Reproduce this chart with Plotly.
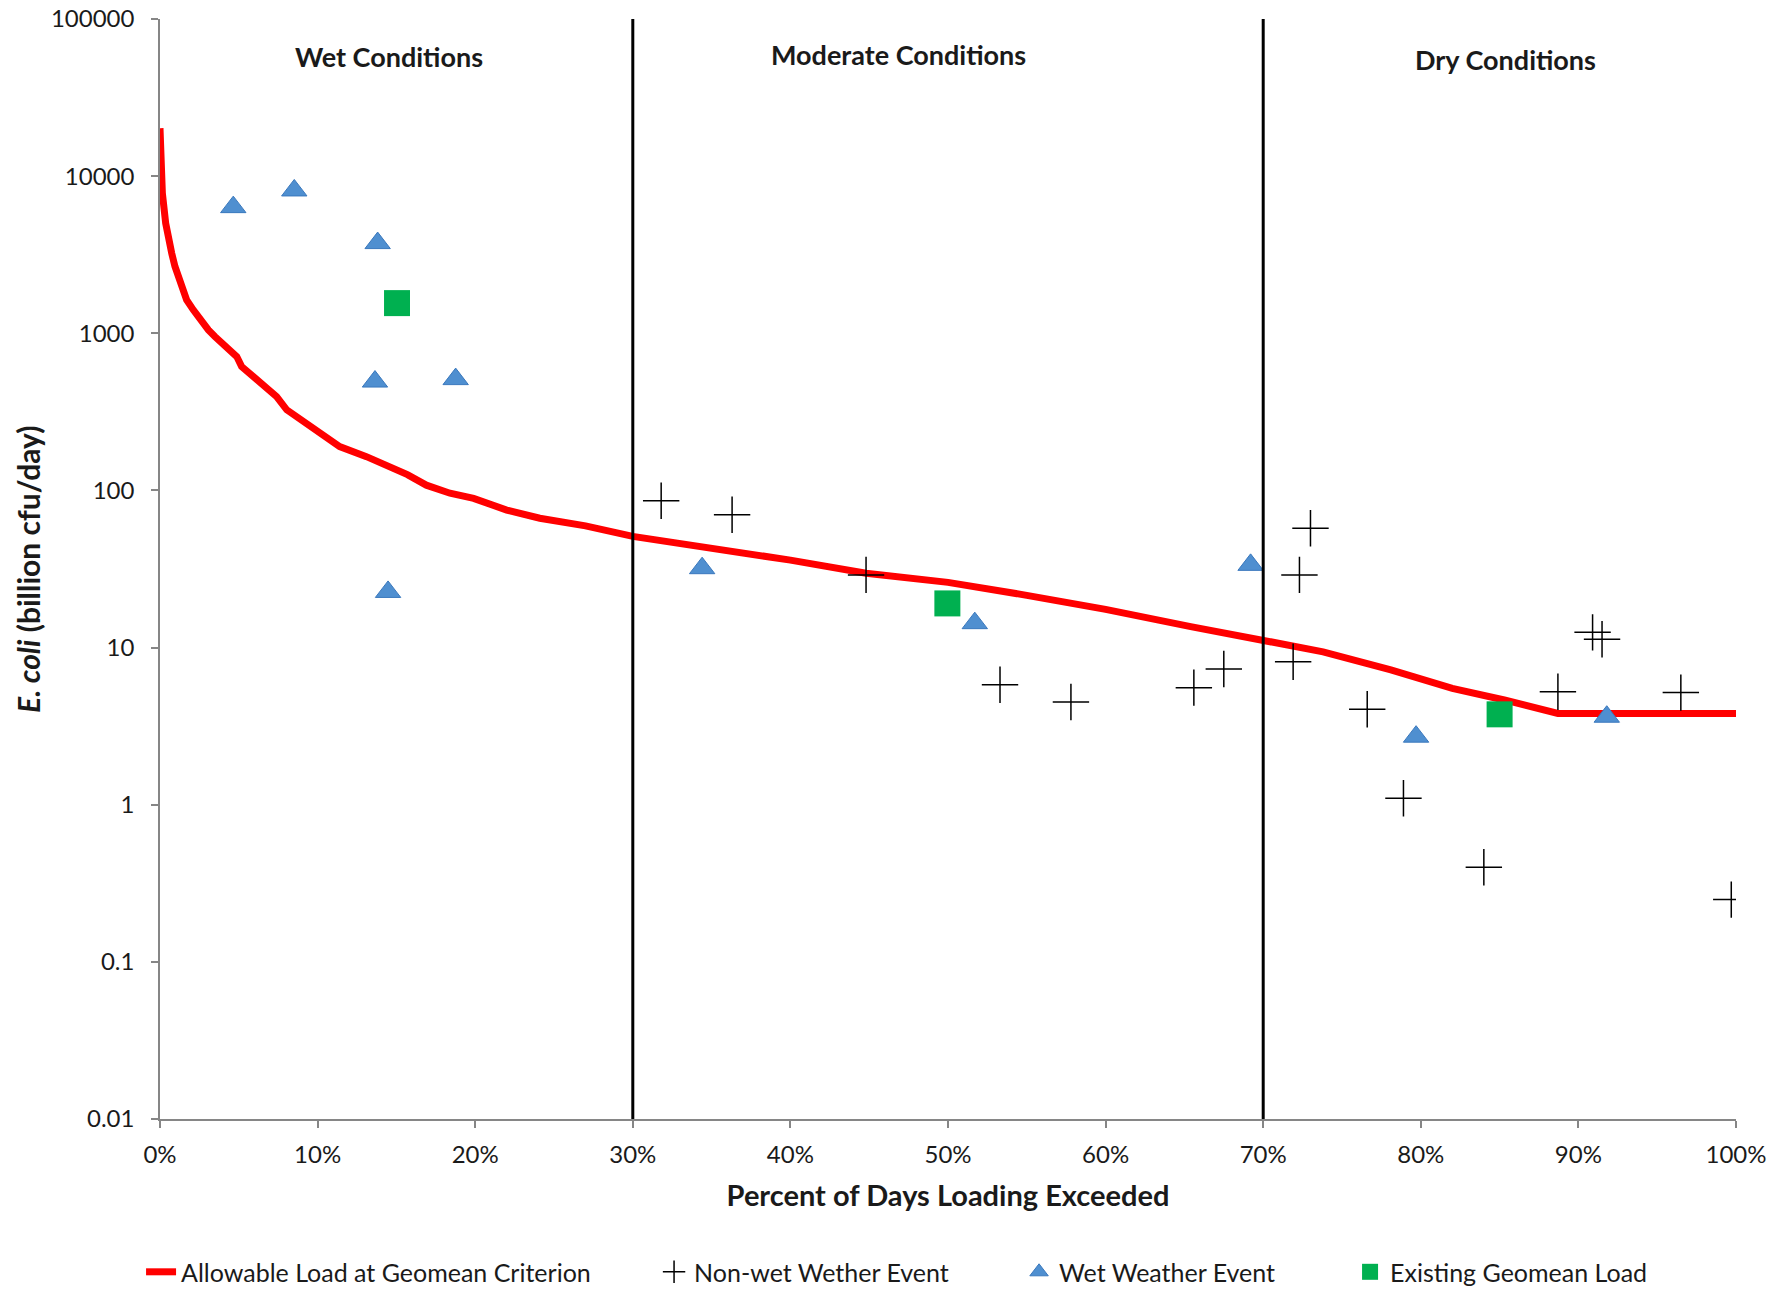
import math
import plotly.graph_objects as go

# ---------------- data ----------------
# Allowable load duration curve (fraction of days exceeded, billion cfu/day)
curve_x = [0.0, 0.0015, 0.0036, 0.0053, 0.0074, 0.0095, 0.0127, 0.0169, 0.0211, 0.0254,
           0.0307, 0.0348, 0.0391, 0.0444, 0.0487, 0.0518, 0.0592, 0.0677, 0.074, 0.0804,
           0.1015, 0.114, 0.131, 0.144, 0.157, 0.169, 0.184, 0.199, 0.220, 0.241,
           0.27, 0.30, 0.35, 0.40, 0.448, 0.50, 0.55, 0.60, 0.654, 0.70,
           0.738, 0.781, 0.82, 0.853, 0.887, 1.0]
curve_y = [20200, 7800, 5020, 3930, 3240, 2660, 2080, 1630, 1410, 1220,
           1050, 953, 865, 784, 711, 614, 530, 458, 395, 326,
           231, 190, 164, 145, 126, 108, 96, 89, 75, 66.5,
           59.5, 51, 43, 36, 29.7, 26, 21.5, 17.5, 13.6, 11.2,
           9.4, 7.2, 5.5, 4.64, 3.81, 3.81]

# Non-wet weather events
nonwet_x = [0.318, 0.363, 0.448, 0.533, 0.578, 0.656, 0.675, 0.719, 0.723, 0.730,
            0.766, 0.789, 0.840, 0.887, 0.909, 0.915, 0.965, 0.997]
nonwet_y = [86, 70, 29, 5.8, 4.5, 5.56, 7.3, 8.13, 29, 57.4,
            4.05, 1.1, 0.40, 5.24, 12.5, 11.3, 5.17, 0.249]

# Wet weather events
wet_x = [0.0465, 0.0852, 0.1381, 0.1364, 0.1876, 0.1447, 0.344, 0.517, 0.692, 0.797, 0.918]
wet_y = [6350, 8110, 3750, 493, 511, 22.6, 32, 14.3, 33.6, 2.71, 3.63]

# Existing geomean load
geo_x = [0.1504, 0.4996, 0.850]
geo_y = [1556, 19.1, 3.76]

# Flow condition boundaries and labels
bounds = [0.30, 0.70]
cond_labels = ["Wet Conditions", "Moderate Conditions", "Dry Conditions"]
cond_label_x = [0.145, 0.4685, 0.854]
cond_label_y = [58000, 59700, 55000]

x_ticks = [0, 0.1, 0.2, 0.3, 0.4, 0.5, 0.6, 0.7, 0.8, 0.9, 1.0]
x_ticktext = ["0%", "10%", "20%", "30%", "40%", "50%", "60%", "70%", "80%", "90%", "100%"]
y_ticks = [0.01, 0.1, 1, 10, 100, 1000, 10000, 100000]
y_ticktext = ["0.01", "0.1", "1", "10", "100", "1000", "10000", "100000"]

names = ["Allowable Load at Geomean Criterion", "Non-wet Wether Event",
         "Wet Weather Event", "Existing Geomean Load"]
y_title = "<b><i>E. coli</i> (billion cfu/day)</b>"
x_title = "<b>Percent of Days Loading Exceeded</b>"

FONT = "Lato"
TXT = "#1a1a1a"
AX = "#868686"

fig = go.Figure()
fig.add_trace(go.Scatter(x=curve_x, y=curve_y, mode="lines", name=names[0],
                         line=dict(color="#FF0000", width=7), legendwidth=468))
fig.add_trace(go.Scatter(x=nonwet_x, y=nonwet_y, mode="markers", name=names[1],
                         marker=dict(symbol="cross-thin", size=26,
                                     line=dict(color="#000000", width=1.5)),
                         legendwidth=320))
fig.add_trace(go.Scatter(x=wet_x, y=wet_y, mode="markers", name=names[2],
                         marker=dict(symbol="triangle-up", size=22, color="#4F8FD0",
                                     line=dict(color="#3A78BD", width=1)),
                         legendwidth=286))
fig.add_trace(go.Scatter(x=geo_x, y=geo_y, mode="markers", name=names[3],
                         marker=dict(symbol="square", size=26, color="#00B050",
                                     line=dict(width=0)),
                         legendwidth=270))

for b in bounds:
    fig.add_shape(type="line", x0=b, x1=b, xref="x", yref="paper", y0=0, y1=1,
                  line=dict(color="#000000", width=3), layer="above")

for t, lx, ly in zip(cond_labels, cond_label_x, cond_label_y):
    fig.add_annotation(x=lx, y=math.log10(ly), xref="x", yref="y",
                       text="<b>" + t + "</b>", showarrow=False,
                       font=dict(family=FONT, size=27, color=TXT))

# y-axis title (rotated)
fig.add_annotation(x=-0.0838, y=0.5, xref="paper", yref="paper",
                   text=y_title, textangle=-90, showarrow=False,
                   xanchor="center", yanchor="middle",
                   font=dict(family=FONT, size=30, color=TXT))

fig.update_layout(
    width=1781, height=1293,
    margin=dict(l=160, r=45, t=19, b=174, autoexpand=False),
    paper_bgcolor="white", plot_bgcolor="white",
    font=dict(family=FONT, size=24, color=TXT),
    showlegend=True,
    legend=dict(orientation="h", xref="container", yref="container",
                x=0.0792, y=0.0162, xanchor="left", yanchor="middle",
                font=dict(family=FONT, size=25, color=TXT),
                bgcolor="rgba(0,0,0,0)"),
)
fig.update_xaxes(range=[0, 1], tickvals=x_ticks, ticktext=x_ticktext, automargin=False,
                 showline=True, linecolor=AX, linewidth=1.5, mirror=False,
                 ticks="outside", ticklen=7, tickcolor=AX, tickwidth=1.5,
                 ticklabelstandoff=6,
                 showgrid=False, zeroline=False,
                 tickfont=dict(family=FONT, size=24, color=TXT),
                 title=dict(text=x_title,
                            font=dict(family=FONT, size=29, color=TXT), standoff=19))
fig.update_yaxes(type="log", range=[-2, 5], tickvals=y_ticks, ticktext=y_ticktext,
                 automargin=False,
                 showline=True, linecolor=AX, linewidth=1.5,
                 ticks="outside", ticklen=7, tickcolor=AX, tickwidth=1.5,
                 ticklabelstandoff=12,
                 showgrid=False, zeroline=False,
                 tickfont=dict(family=FONT, size=24, color=TXT))

fig.write_html("out.html")
